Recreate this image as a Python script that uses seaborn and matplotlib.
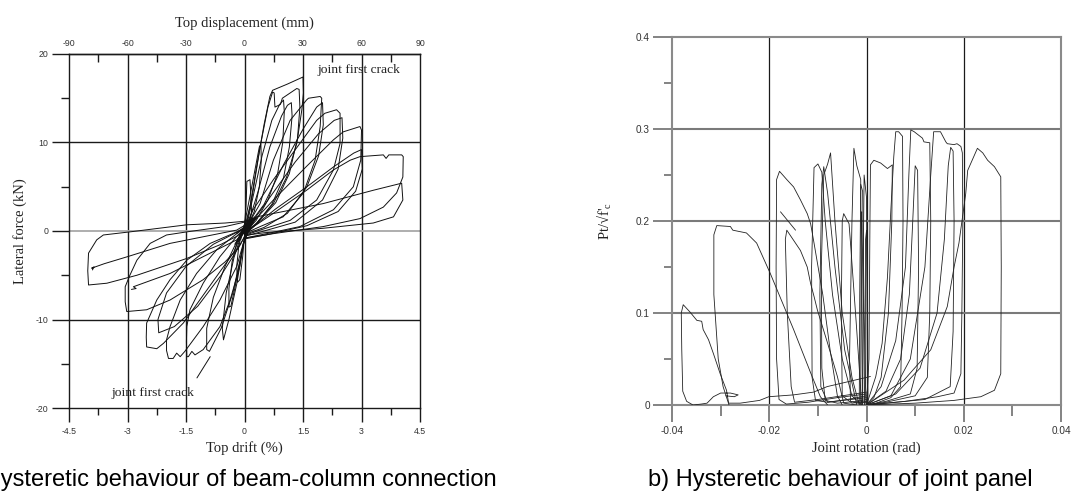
import matplotlib
matplotlib.use("Agg")
import matplotlib.pyplot as plt
import pandas as pd
import seaborn as sns

# ---------------- a) beam-column connection : drift (%) , lateral force (kN)
pos_c01 = [(-0.10, -1.0), (0.00, 0.6), (0.04, 3.0), (0.06, 5.6), (0.14, 5.8), (0.16, 4.2), (0.18, 2.2), (0.12, 0.6), (0.00, -0.6)]
pos_c02 = [(-0.15, -1.2), (0.00, 0.8), (0.12, 3.5), (0.25, 6.5), (0.38, 9.5), (0.42, 9.8), (0.43, 8.0), (0.38, 5.0), (0.25, 2.2), (0.05, 0.3), (-0.10, -0.8)]
pos_c03 = [(-0.25, -1.5), (0.00, 0.3), (0.15, 3.0), (0.30, 7.0), (0.50, 12.0), (0.65, 15.2), (0.72, 15.9), (1.10, 16.6), (1.50, 17.4),
           (1.51, 15.6), (1.47, 13.7), (1.34, 9.9), (1.08, 6.1), (0.74, 3.1), (0.31, 0.9), (0.00, -0.3)]
pos_c04 = [(-0.20, -1.3), (0.05, 0.8), (0.20, 4.0), (0.40, 9.5), (0.60, 14.0), (0.72, 15.7), (0.76, 15.6), (0.78, 14.0), (0.92, 14.3),
           (0.97, 15.0), (1.34, 16.1), (1.40, 16.0), (1.42, 14.0), (1.36, 10.5), (1.15, 6.5), (0.80, 3.2), (0.35, 1.0), (0.00, -0.4)]
pos_c05 = [(-0.20, -1.2), (0.05, 0.5), (0.20, 3.5), (0.45, 8.5), (0.70, 12.5), (0.90, 14.3), (1.00, 14.8), (1.02, 13.5), (0.98, 10.0),
           (0.85, 6.5), (0.60, 3.5), (0.30, 1.2), (0.00, -0.2)]
pos_c06 = [(-0.15, -0.9), (0.10, 0.9), (0.35, 4.5), (0.65, 9.5), (0.95, 13.0), (1.10, 14.2), (1.20, 14.5), (1.22, 13.0), (1.15, 9.5),
           (1.00, 6.0), (0.70, 3.0), (0.30, 0.8), (0.00, -0.5)]
pos_c07 = [(-0.20, -1.3), (0.10, 0.8), (0.40, 3.1), (0.74, 8.0), (1.17, 12.5), (1.59, 14.8), (1.64, 15.0), (1.94, 15.2), (1.98, 15.0),
           (1.94, 11.8), (1.81, 8.0), (1.51, 4.3), (0.99, 1.6), (0.40, 0.5), (0.00, -0.3)]
pos_c08 = [(0.00, 0.0), (0.50, 3.0), (1.00, 7.5), (1.50, 11.5), (1.85, 14.0), (2.00, 14.5), (2.02, 12.0), (1.90, 8.5), (1.60, 5.0),
           (1.10, 2.0), (0.50, 0.4), (0.00, -0.4)]
pos_c09 = [(0.00, 0.2), (0.22, 2.4), (0.74, 5.8), (1.42, 9.9), (1.85, 12.5), (2.06, 13.3), (2.36, 13.7), (2.45, 13.3), (2.45, 9.9),
           (2.28, 6.9), (1.85, 3.5), (1.17, 1.2), (0.40, 0.1), (0.00, -0.5)]
pos_c10 = [(0.00, -0.2), (0.60, 3.5), (1.30, 7.8), (1.90, 11.0), (2.30, 12.5), (2.50, 12.8), (2.52, 10.5), (2.40, 7.0), (2.00, 3.5),
           (1.30, 1.0), (0.50, 0.0), (0.00, -0.6)]
pos_c11 = [(0.00, 0.0), (0.74, 3.5), (1.59, 7.3), (2.28, 10.3), (2.53, 11.2), (2.96, 11.8), (3.00, 11.4), (2.98, 8.0), (2.79, 5.0),
           (2.28, 2.4), (1.42, 0.5), (0.57, -0.3), (0.00, -0.8)]
pos_c12 = [(0.00, -0.3), (0.80, 2.5), (1.60, 5.0), (2.30, 7.3), (2.80, 8.8), (3.00, 9.2), (3.02, 7.0), (2.85, 4.5), (2.40, 2.2),
           (1.60, 0.6), (0.60, -0.4), (0.00, -0.9)]
pos_c13 = [(-0.10, -0.5), (0.74, 2.0), (1.59, 4.6), (2.28, 6.9), (2.71, 8.0), (2.96, 8.4), (3.56, 8.6), (3.63, 8.2), (3.70, 8.6),
           (4.03, 8.6), (4.07, 8.4), (4.06, 6.1), (3.90, 4.3), (3.56, 2.7), (2.96, 1.4), (2.02, 0.5), (0.74, -0.3), (0.00, -0.8)]
pos_c14 = [(-0.20, -0.3), (0.31, 1.6), (2.02, 3.1), (3.30, 4.6), (4.03, 5.4), (4.06, 3.5), (3.82, 1.6), (3.30, 0.9), (2.00, 0.3),
           (0.50, -0.2), (0.00, -0.5)]

neg_c01 = [(0.10, 1.0), (0.00, -0.5), (-0.05, -3.0), (-0.12, -5.5), (-0.18, -5.8), (-0.20, -4.0), (-0.15, -1.8), (-0.05, 0.2), (0.10, 1.2)]
neg_c02 = [(0.15, 1.2), (0.00, -0.8), (-0.12, -3.5), (-0.25, -6.5), (-0.35, -8.5), (-0.40, -8.6), (-0.40, -6.5), (-0.32, -3.5),
           (-0.18, -1.0), (0.00, 0.6), (0.15, 1.3)]
neg_c03 = [(0.20, 1.5), (0.05, 0.0), (-0.05, -2.0), (-0.20, -6.0), (-0.40, -10.0), (-0.54, -12.3), (-0.57, -11.0), (-0.47, -7.0),
           (-0.27, -3.0), (-0.05, 0.0), (0.20, 1.4)]
neg_c04 = [(0.20, 1.4), (0.05, 0.0), (-0.10, -3.0), (-0.30, -7.0), (-0.60, -11.0), (-0.90, -13.6), (-0.97, -13.4), (-0.97, -11.0),
           (-0.80, -7.5), (-0.50, -4.0), (-0.20, -1.2), (0.10, 0.5), (0.20, 1.4)]
neg_c05 = [(0.25, 1.5), (-0.03, -1.4), (-0.12, -4.0), (-0.37, -7.8), (-0.63, -10.8), (-1.06, -13.4), (-1.27, -14.0), (-1.35, -13.6),
           (-1.44, -14.2), (-1.48, -14.2), (-1.49, -12.5), (-1.48, -10.8), (-1.40, -8.9), (-1.06, -5.9), (-0.63, -2.9), (-0.20, -0.6), (0.10, 0.8)]
neg_c06 = [(0.25, 1.6), (-0.03, -1.4), (-0.20, -4.0), (-0.63, -7.8), (-1.06, -10.8), (-1.53, -13.6), (-1.65, -14.2), (-1.74, -13.8),
           (-1.83, -14.4), (-1.95, -14.4), (-2.00, -13.5), (-2.00, -12.3), (-1.91, -10.8), (-1.65, -7.8), (-1.23, -4.8), (-0.71, -2.1),
           (-0.20, -0.3), (0.10, 0.8)]
neg_c07 = [(0.30, 1.5), (0.00, 0.4), (-0.29, -2.5), (-0.97, -6.7), (-1.57, -10.4), (-2.08, -12.7), (-2.25, -13.3), (-2.51, -13.1),
           (-2.52, -12.0), (-2.51, -10.4), (-2.25, -7.8), (-1.91, -5.5), (-1.48, -3.3), (-0.88, -1.4), (-0.20, -0.1), (0.20, 0.9)]
neg_c08 = [(0.20, 1.2), (-0.10, -1.5), (-0.60, -5.0), (-1.20, -8.5), (-1.80, -10.8), (-2.20, -11.5), (-2.22, -10.0), (-2.00, -7.0),
           (-1.50, -4.0), (-0.80, -1.5), (0.00, 0.3)]
neg_c09 = [(0.30, 1.5), (0.10, 0.0), (-0.20, -2.1), (-0.50, -3.5), (-1.06, -5.5), (-1.91, -7.8), (-2.51, -8.9), (-3.02, -9.1),
           (-3.06, -8.0), (-3.06, -6.3), (-2.94, -5.0), (-2.76, -3.3), (-2.42, -1.4), (-2.00, -0.45), (-1.48, -0.1), (-0.50, 0.5), (0.20, 1.2)]
neg_c10 = [(0.20, 1.0), (-0.20, -1.0), (-1.06, -2.9), (-1.91, -4.8), (-2.60, -5.9), (-2.85, -6.3), (-2.78, -6.5), (-2.90, -6.6)]
neg_c11 = [(0.30, 1.4), (0.00, 1.1), (-0.50, 0.9), (-1.48, 0.7), (-2.94, -0.1), (-3.62, -0.45), (-3.79, -1.0), (-4.00, -2.5),
           (-4.02, -4.5), (-4.00, -6.1), (-3.53, -5.9), (-2.76, -5.0), (-1.48, -3.1), (-0.60, -1.5), (-0.20, -0.6), (0.10, 0.3)]
neg_c12 = [(0.25, 1.3), (-0.20, 0.1), (-1.00, -0.6), (-1.91, -1.4), (-3.00, -2.9), (-3.60, -3.7), (-3.92, -4.2), (-3.86, -4.05), (-3.90, -4.4)]

crack_mark_a = [(-1.22, -16.6), (-0.88, -14.2)]

drift_ticks = [-4.5, -3, -1.5, 0, 1.5, 3, 4.5]
drift_labels = ["-4.5", "-3", "-1.5", "0", "1.5", "3", "4.5"]
disp_ticks = [-90, -60, -30, 0, 30, 60, 90]
force_ticks = [-20, -10, 0, 10, 20]

# ---------------- b) joint panel : rotation (rad) , Pt/sqrt(f'c)
rot_n1 = [(-0.0283, 0.0), (-0.0288, 0.016), (-0.0301, 0.034), (-0.0315, 0.056), (-0.0325, 0.071), (-0.0336, 0.082), (-0.0339, 0.091),
          (-0.0349, 0.092), (-0.0363, 0.101), (-0.0377, 0.109), (-0.0381, 0.100), (-0.0380, 0.060), (-0.0378, 0.015), (-0.0370, 0.004),
          (-0.0357, 0.0), (-0.0340, 0.001), (-0.0328, 0.002), (-0.0315, 0.009), (-0.0300, 0.013), (-0.0280, 0.013), (-0.0264, 0.011),
          (-0.0272, 0.009), (-0.0290, 0.010)]
rot_n2 = [(-0.0080, 0.0), (-0.0095, 0.009), (-0.0115, 0.035), (-0.0150, 0.082), (-0.0198, 0.143), (-0.0226, 0.176), (-0.0247, 0.187),
          (-0.0275, 0.190), (-0.0280, 0.194), (-0.0308, 0.195), (-0.0314, 0.185), (-0.0314, 0.120), (-0.0305, 0.050), (-0.0295, 0.020),
          (-0.0284, 0.002), (-0.0260, 0.002), (-0.0220, 0.005), (-0.0201, 0.009), (-0.0150, 0.011), (-0.0109, 0.014), (-0.0081, 0.020),
          (0.0008, 0.031)]
rot_n3 = [(-0.0050, 0.0), (-0.0060, 0.010), (-0.0075, 0.060), (-0.0090, 0.120), (-0.0108, 0.176), (-0.0115, 0.197), (-0.0122, 0.208),
          (-0.0136, 0.223), (-0.0150, 0.237), (-0.0164, 0.245), (-0.0179, 0.254), (-0.0185, 0.245), (-0.0186, 0.150), (-0.0185, 0.050),
          (-0.0180, 0.006), (-0.0165, 0.001), (-0.0120, 0.003), (-0.0060, 0.008), (0.0, 0.012)]
rot_n4 = [(-0.0020, 0.0), (-0.0047, 0.002), (-0.0060, 0.031), (-0.0080, 0.067), (-0.0101, 0.103), (-0.0108, 0.118), (-0.0115, 0.132),
          (-0.0122, 0.150), (-0.0136, 0.168), (-0.0150, 0.179), (-0.0164, 0.190), (-0.0167, 0.180), (-0.0163, 0.100), (-0.0155, 0.020),
          (-0.0148, 0.003), (-0.0100, 0.006), (-0.0050, 0.010), (0.0, 0.014)]
rot_n5 = [(-0.0010, 0.0), (-0.0030, 0.010), (-0.0050, 0.050), (-0.0070, 0.120), (-0.0085, 0.200), (-0.0092, 0.253), (-0.0100, 0.262),
          (-0.0108, 0.258), (-0.0113, 0.150), (-0.0112, 0.030), (-0.0105, 0.005), (-0.0080, 0.003), (-0.0040, 0.006), (0.0, 0.010)]
rot_n6 = [(-0.0015, 0.0), (-0.0030, 0.030), (-0.0050, 0.100), (-0.0065, 0.200), (-0.0074, 0.274), (-0.0080, 0.262), (-0.0088, 0.250),
          (-0.0093, 0.150), (-0.0092, 0.040), (-0.0085, 0.005), (-0.0060, 0.002), (-0.0020, 0.004), (0.0, 0.006)]
rot_n7 = [(-0.0008, 0.0), (-0.0010, 0.100), (-0.0012, 0.245), (-0.0020, 0.260), (-0.0026, 0.279), (-0.0030, 0.200), (-0.0035, 0.050),
          (-0.0033, 0.004), (-0.0020, 0.002), (0.0, 0.003)]
rot_n8 = [(-0.0010, 0.0), (-0.0020, 0.080), (-0.0033, 0.176), (-0.0036, 0.197), (-0.0047, 0.208), (-0.0050, 0.200), (-0.0052, 0.100),
          (-0.0050, 0.010), (-0.0030, 0.002), (0.0, 0.004)]
rot_n9 = [(-0.0020, 0.0), (-0.0045, 0.060), (-0.0065, 0.150), (-0.0080, 0.230), (-0.0088, 0.259), (-0.0092, 0.240), (-0.0096, 0.120),
          (-0.0094, 0.020), (-0.0080, 0.003), (0.0, 0.008)]
rot_d1 = [(-0.0015, 0.0), (-0.0014, 0.120), (-0.0012, 0.240), (-0.0008, 0.232), (-0.0005, 0.100), (-0.0002, 0.020), (0.0, 0.0)]
rot_d2 = [(-0.0008, 0.0), (-0.0007, 0.150), (-0.0005, 0.250), (0.0, 0.225), (0.0001, 0.100), (0.0002, 0.0)]
rot_d3 = [(-0.0003, 0.0), (-0.0002, 0.180), (0.0, 0.190), (0.0002, 0.120), (0.0003, 0.0)]
rot_d4 = [(-0.0012, 0.0), (-0.0011, 0.200), (-0.0010, 0.210), (-0.0006, 0.100), (-0.0004, 0.0)]
rot_p1 = [(0.0, 0.0), (0.0005, 0.050), (0.0007, 0.200), (0.0008, 0.261), (0.0015, 0.266), (0.0029, 0.263), (0.0043, 0.257),
          (0.0053, 0.261), (0.0052, 0.200), (0.0045, 0.100), (0.0030, 0.030), (0.0015, 0.008), (0.0, 0.0)]
rot_p2 = [(0.0, 0.0), (0.0019, 0.031), (0.0032, 0.067), (0.0043, 0.139), (0.0050, 0.212), (0.0056, 0.270), (0.0060, 0.297),
          (0.0066, 0.297), (0.0074, 0.292), (0.0075, 0.200), (0.0073, 0.100), (0.0070, 0.020), (0.0050, 0.008), (0.0020, 0.002), (0.0, 0.0)]
rot_p3 = [(0.0, 0.0), (0.0030, 0.020), (0.0060, 0.070), (0.0080, 0.150), (0.0087, 0.250), (0.0091, 0.299), (0.0098, 0.297),
          (0.0115, 0.290), (0.0118, 0.286), (0.0130, 0.285), (0.0132, 0.200), (0.0130, 0.100), (0.0125, 0.030), (0.0100, 0.010),
          (0.0040, 0.003), (0.0, 0.0)]
rot_p4 = [(0.0, 0.0), (0.0050, 0.010), (0.0090, 0.050), (0.0120, 0.150), (0.0132, 0.250), (0.0138, 0.297), (0.0149, 0.297),
          (0.0152, 0.297), (0.0163, 0.286), (0.0166, 0.284), (0.0180, 0.283), (0.0186, 0.284), (0.0194, 0.281), (0.0197, 0.274),
          (0.0198, 0.200), (0.0196, 0.100), (0.0194, 0.034), (0.0180, 0.013), (0.0146, 0.009), (0.0080, 0.004), (0.0, 0.0)]
rot_p5 = [(0.0, 0.0), (0.0077, 0.027), (0.0132, 0.060), (0.0166, 0.107), (0.0180, 0.150), (0.0190, 0.176), (0.0204, 0.230),
          (0.0208, 0.255), (0.0228, 0.279), (0.0239, 0.274), (0.0249, 0.266), (0.0263, 0.259), (0.0276, 0.248), (0.0277, 0.150),
          (0.0276, 0.034), (0.0263, 0.016), (0.0235, 0.009), (0.0180, 0.005), (0.0100, 0.002), (0.0, 0.0)]
rot_p6 = [(0.0, 0.0), (0.0040, 0.015), (0.0070, 0.050), (0.0088, 0.120), (0.0095, 0.200), (0.0100, 0.260), (0.0105, 0.255),
          (0.0107, 0.150), (0.0104, 0.040), (0.0090, 0.012), (0.0040, 0.004), (0.0, 0.0)]
rot_p7 = [(0.0, 0.0), (0.0060, 0.012), (0.0110, 0.040), (0.0145, 0.100), (0.0160, 0.180), (0.0168, 0.260), (0.0173, 0.280),
          (0.0178, 0.276), (0.0180, 0.200), (0.0178, 0.080), (0.0172, 0.020), (0.0120, 0.006), (0.0, 0.0)]
crack_mark_b = [(-0.0177, 0.210), (-0.0146, 0.190)]

rot_ticks = [-0.04, -0.02, 0, 0.02, 0.04]
rot_labels = ["-0.04", "-0.02", "0", "0.02", "0.04"]
shear_ticks = [0, 0.1, 0.2, 0.3, 0.4]
shear_labels = ["0", "0.1", "0.2", "0.3", "0.4"]


def to_frame(cycles, xname, yname):
    rows = []
    for name, pts in cycles.items():
        for i, (x, y) in enumerate(pts):
            rows.append((name, i, x, y))
    return pd.DataFrame(rows, columns=["cycle", "step", xname, yname])


conn_df = to_frame({
    "p01": pos_c01, "p02": pos_c02, "p03": pos_c03, "p04": pos_c04, "p05": pos_c05, "p06": pos_c06, "p07": pos_c07,
    "p08": pos_c08, "p09": pos_c09, "p10": pos_c10, "p11": pos_c11, "p12": pos_c12, "p13": pos_c13, "p14": pos_c14,
    "n01": neg_c01, "n02": neg_c02, "n03": neg_c03, "n04": neg_c04, "n05": neg_c05, "n06": neg_c06, "n07": neg_c07,
    "n08": neg_c08, "n09": neg_c09, "n10": neg_c10, "n11": neg_c11, "n12": neg_c12, "mark": crack_mark_a,
}, "drift", "force")

joint_df = to_frame({
    "n1": rot_n1, "n2": rot_n2, "n3": rot_n3, "n4": rot_n4, "n5": rot_n5, "n6": rot_n6, "n7": rot_n7, "n8": rot_n8,
    "n9": rot_n9, "d1": rot_d1, "d2": rot_d2, "d3": rot_d3, "d4": rot_d4, "p1": rot_p1, "p2": rot_p2, "p3": rot_p3,
    "p4": rot_p4, "p5": rot_p5, "p6": rot_p6, "p7": rot_p7, "mark": crack_mark_b,
}, "rotation", "shear")

sns.set_style("white")
plt.rcParams["font.family"] = ["Liberation Sans", "DejaVu Sans"]
plt.rcParams["axes.unicode_minus"] = False
plt.rcParams["mathtext.fontset"] = "custom"
plt.rcParams["mathtext.rm"] = "Liberation Serif"
plt.rcParams["mathtext.it"] = "Liberation Serif:italic"
serif = ["Liberation Serif", "DejaVu Serif"]

fig = plt.figure(figsize=(10.72, 4.93), dpi=100)
ax1 = fig.add_axes([0.0644, 0.1724, 0.3274, 0.7181])
ax2 = fig.add_axes([0.6269, 0.1785, 0.3629, 0.7465])

# ---- panel a
for v in [-3, -1.5, 0, 1.5, 3]:
    ax1.axvline(v, color="#1a1a1a", lw=1.0, zorder=1)
for h in [-10, 10]:
    ax1.axhline(h, color="#1a1a1a", lw=1.0, zorder=1)
ax1.axhline(0, color="#a8a8a8", lw=1.3, zorder=1)

sns.lineplot(data=conn_df, x="drift", y="force", units="cycle", estimator=None, sort=False,
             color="#111111", lw=0.7, legend=False, ax=ax1, zorder=3)
ax1.set_xlim(-4.5, 4.5)
ax1.set_ylim(-20, 20)
ax1.set_xticks(drift_ticks)
ax1.set_xticklabels(drift_labels)
ax1.set_xticks([-3.75, -2.25, -0.75, 0.75, 2.25, 3.75], minor=True)
ax1.set_yticks(force_ticks)
ax1.set_yticks([-15, -5, 5, 15], minor=True)
ax1.tick_params(axis="x", which="major", direction="out", length=10, width=1.0, color="#1a1a1a",
                labelsize=6.3, labelcolor="#333333", pad=4, bottom=True)
ax1.tick_params(axis="x", which="minor", direction="out", length=5, width=1.0, color="#1a1a1a", bottom=True)
ax1.tick_params(axis="y", which="major", direction="out", length=12, width=1.0, color="#1a1a1a",
                labelsize=6.3, labelcolor="#333333", pad=3, left=True)
ax1.tick_params(axis="y", which="minor", direction="out", length=6, width=1.0, color="#1a1a1a", left=True)
for s in ax1.spines.values():
    s.set_color("#1a1a1a")
    s.set_linewidth(1.0)
ax1.set_xlabel("Top drift (%)", family=serif, fontsize=10.5, color="#222222", labelpad=3)
ax1.set_ylabel("Lateral force (kN)", family=serif, fontsize=10.5, color="#222222", labelpad=6)

top = ax1.secondary_xaxis("top", functions=(lambda d: d * 20, lambda m: m / 20))
top.set_xticks(disp_ticks)
top.set_xticklabels([str(t) for t in disp_ticks])
top.set_xticks([-75, -45, -15, 15, 45, 75], minor=True)
top.tick_params(which="major", length=0, labelsize=6.3, labelcolor="#333333", pad=4)
top.tick_params(which="minor", direction="in", length=6, width=1.0, color="#1a1a1a")
top.spines["top"].set_color("#1a1a1a")
top.spines["top"].set_linewidth(1.0)
top.set_xlabel("Top displacement (mm)", family=serif, fontsize=10.5, color="#222222", labelpad=9)

ax1.text(1.88, 18.2, "joint first crack", family=serif, fontsize=9.7, color="#222222", va="center")
ax1.text(-3.40, -18.3, "joint first crack", family=serif, fontsize=9.7, color="#222222", va="center")

# ---- panel b
for v in [-0.02, 0, 0.02]:
    ax2.axvline(v, color="#1a1a1a", lw=0.9, zorder=1)
for h in [0.1, 0.2, 0.3]:
    ax2.axhline(h, color="#7a7a7a", lw=1.5, zorder=1)

sns.lineplot(data=joint_df, x="rotation", y="shear", units="cycle", estimator=None, sort=False,
             color="#222222", lw=0.6, legend=False, ax=ax2, zorder=3)
ax2.set_xlim(-0.04, 0.04)
ax2.set_ylim(0, 0.4)
ax2.set_xticks(rot_ticks)
ax2.set_xticklabels(rot_labels)
ax2.set_xticks([-0.03, -0.01, 0.01, 0.03], minor=True)
ax2.set_yticks(shear_ticks)
ax2.set_yticklabels(shear_labels)
ax2.set_yticks([0.05, 0.15, 0.25, 0.35], minor=True)
ax2.tick_params(axis="x", which="major", direction="out", length=12, width=1.3, color="#7a7a7a",
                labelsize=7.2, labelcolor="#333333", pad=3, bottom=True)
ax2.tick_params(axis="x", which="minor", direction="out", length=8, width=1.3, color="#7a7a7a", bottom=True)
ax2.tick_params(axis="y", which="major", direction="out", length=14, width=1.3, color="#7a7a7a",
                labelsize=7.2, labelcolor="#333333", pad=2, left=True)
ax2.tick_params(axis="y", which="minor", direction="out", length=6, width=1.3, color="#7a7a7a", left=True)
for s in ax2.spines.values():
    s.set_color("#8a8a8a")
    s.set_linewidth(1.5)
ax2.set_xlabel("Joint rotation (rad)", family=serif, fontsize=10.5, color="#222222", labelpad=4)
ax2.set_ylabel("Pt/√f$'_{\\mathrm{c}}$", family=serif, fontsize=10.5, color="#222222", labelpad=16)

# ---- captions (the left one runs past the image edge, as in the source figure)
fig.text(-44 / 1072, 0.0142, "a) Hysteretic behaviour of beam-column connection", fontsize=17,
         va="baseline", ha="left", color="black")
fig.text(0.6045, 0.0142, "b) Hysteretic behaviour of joint panel", fontsize=17,
         va="baseline", ha="left", color="black")

fig.savefig("out.png", dpi=100)
